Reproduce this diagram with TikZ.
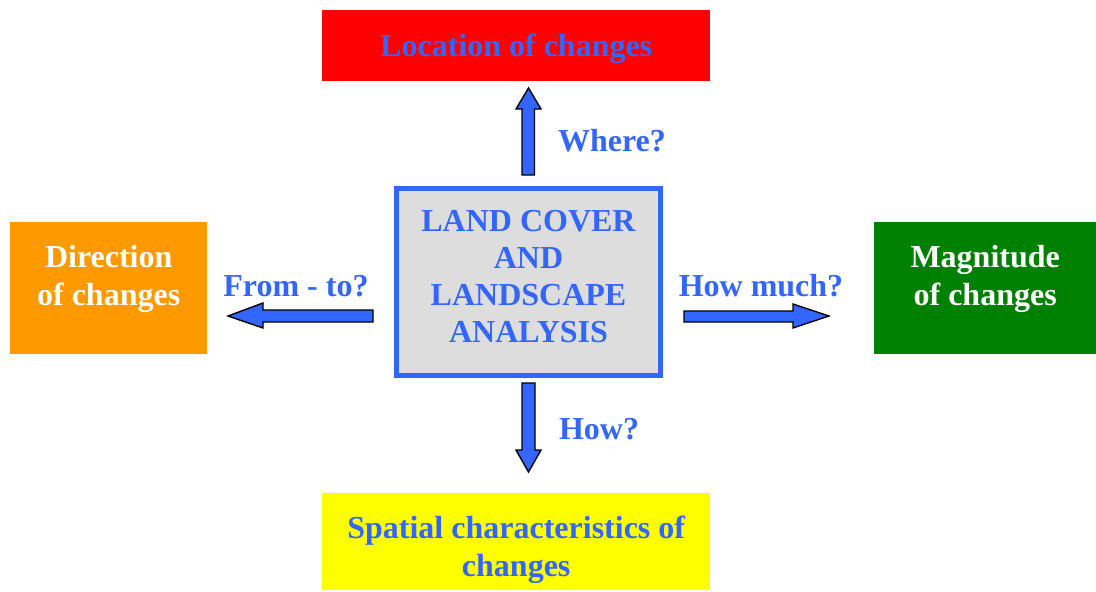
\documentclass[tikz,border=0pt]{standalone}
\usepackage{fontspec}
\setmainfont{Liberation Serif}
\usetikzlibrary{calc}
\definecolor{tblue}{HTML}{3366FF}
\definecolor{tred}{HTML}{FF0000}
\definecolor{torange}{HTML}{FF9900}
\definecolor{tgreen}{HTML}{008000}
\definecolor{tyellow}{HTML}{FFFF00}
\definecolor{tgray}{HTML}{DDDDDD}
\tikzset{
  lbl/.style={font=\fontsize{32}{38}\selectfont\bfseries, align=center, inner sep=0pt},
  bluetxt/.style={lbl, text=tblue},
  whitetxt/.style={lbl, text=white},
  colbox/.style={draw=none, inner sep=0pt, anchor=north west},
  blockarrow/.style={fill=tblue, draw=black, line width=1.4pt, line join=miter}
}
\begin{document}
\begin{tikzpicture}[x=1pt,y=-1pt]
\useasboundingbox (0,0) rectangle (1096,592);
% boxes
\node[colbox, fill=tred, minimum width=388pt, minimum height=71pt] (loc) at (322,10) {};
\node[colbox, fill=torange, minimum width=197pt, minimum height=132pt] (dir) at (10,222) {};
\node[colbox, fill=tgreen, minimum width=222pt, minimum height=132pt] (mag) at (874,222) {};
\node[colbox, fill=tyellow, minimum width=388pt, minimum height=97pt] (spa) at (322,493) {};
\node[draw=tblue, fill=tgray, line width=5pt, minimum width=264pt, minimum height=187pt, inner sep=0pt] (lca) at (528.5,282) {};
% texts
\node[bluetxt] (loct) at ($(loc.center)+(0,3)$) {Location of changes};
\node[whitetxt] (dirt) at ($(dir.center)+(0,-9)$) {Direction\\of changes};
\node[whitetxt] (magt) at ($(mag.center)+(0,-9)$) {Magnitude\\of changes};
\node[bluetxt] (spat) at ($(spa.center)+(0,8)$) {Spatial characteristics of\\changes};
\node[lbl, text=tblue, font=\fontsize{32}{37}\selectfont\bfseries] (lcat) at ($(lca.center)+(0,-5)$) {LAND COVER\\AND\\LANDSCAPE\\ANALYSIS};
% arrows
\draw[blockarrow] (522,175) -- (522,109) -- (516,109) -- (528.5,88) -- (541,109) -- (534.5,109) -- (534.5,175) -- cycle;
\draw[blockarrow] (522,383) -- (522,450) -- (516,450) -- (528.5,472) -- (541,450) -- (535,450) -- (535,383) -- cycle;
\draw[blockarrow] (373,310) -- (263,310) -- (263,303) -- (228,316) -- (263,328) -- (263,322) -- (373,322) -- cycle;
\draw[blockarrow] (684,311) -- (793,311) -- (793,304) -- (829,316) -- (793,328) -- (793,322) -- (684,322) -- cycle;
% question labels
\node[bluetxt] (where) at (612,141) {Where?};
\node[bluetxt] (fromto) at (296,286) {From - to?};
\node[bluetxt] (howmuch) at (761,286) {How much?};
\node[bluetxt] (how) at (599,429) {How?};
\end{tikzpicture}
\end{document}
